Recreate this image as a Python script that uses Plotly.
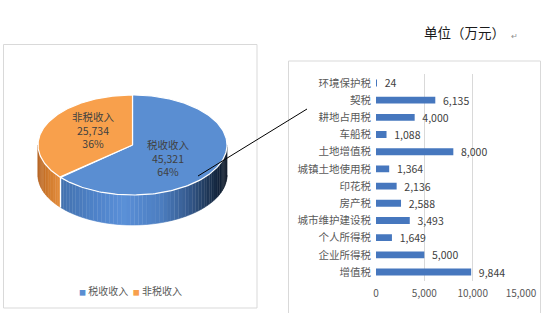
import numpy as np
import plotly.graph_objects as go

W, H = 542, 313

# ---------------- data ----------------
pie_labels = ["税收收入", "非税收入"]
pie_values = [45321, 25734]
pie_colors = ["#5A8ED2", "#F8A04C"]

tax_items = ["环境保护税", "契税", "耕地占用税", "车船税", "土地增值税", "城镇土地使用税",
             "印花税", "房产税", "城市维护建设税", "个人所得税", "企业所得税", "增值税"]
tax_values = [24, 6135, 4000, 1088, 8000, 1364, 2136, 2588, 3493, 1649, 5000, 9844]
x_ticks = [0, 5000, 10000, 15000]
x_ticklabels = ["0", "5,000", "10,000", "15,000"]
unit_text = "单位（万元）"

# ---------------- helpers ----------------
def px(x):
    return x / W

def py(y):
    return 1 - y / H

def hex2rgb(h):
    h = h.lstrip("#")
    return np.array([int(h[i:i + 2], 16) for i in (0, 2, 4)], dtype=float)

def interp_color(t, stops):
    ts = [s[0] for s in stops]
    cs = [hex2rgb(s[1]) for s in stops]
    if t <= ts[0]:
        c = cs[0]
    elif t >= ts[-1]:
        c = cs[-1]
    else:
        for i in range(len(ts) - 1):
            if ts[i] <= t <= ts[i + 1]:
                f = (t - ts[i]) / (ts[i + 1] - ts[i])
                c = cs[i] + f * (cs[i + 1] - cs[i])
                break
    return "rgb(%d,%d,%d)" % tuple(np.round(c))

# pie geometry (pixel space)
cx, cy, rx, ry, depth = 132.5, 145.0, 94.5, 50.0, 30.0
side_stops = [
    [(0.0, "#3D69A6"), (0.12, "#4371AE"), (0.3, "#4E82C8"), (0.45, "#5A90D8"),
     (0.65, "#4C7DC0"), (0.8, "#34598C"), (0.9, "#1E3656"), (1.0, "#0A1524")],
    [(0.0, "#B5611E"), (0.05, "#CF792C"), (0.12, "#E48D3C"), (1.0, "#E48D3C")],
]

fig = go.Figure()

total = sum(pie_values)
angles = []
a = -90.0
for v in pie_values:
    span = v / total * 360.0
    angles.append((a, a + span))
    a += span

def ex(phi):
    return cx + rx * np.cos(np.radians(phi))

def ey(phi):
    return cy + ry * np.sin(np.radians(phi))

# side walls (front half only) with gradient strips
for k, (a0, a1) in enumerate(angles):
    for off in (0.0, 360.0):
        lo = max(a0, 0.0 + off)
        hi = min(a1, 180.0 + off)
        if hi <= lo:
            continue
        n = max(2, int((hi - lo) / 2.5))
        edges = np.linspace(lo, hi, n + 1)
        for i in range(n):
            p0, p1 = edges[i], edges[i + 1]
            ph = np.linspace(p0, p1, 4)
            xs = list(ex(ph)) + list(ex(ph[::-1]))
            ys = list(ey(ph)) + list(ey(ph[::-1]) + depth)
            t = (ex((p0 + p1) / 2) - (cx - rx)) / (2 * rx)
            col = interp_color(t, side_stops[k])
            fig.add_trace(go.Scatter(x=xs, y=ys, fill="toself", fillcolor=col,
                                     mode="lines", line=dict(color=col, width=0.6),
                                     hoverinfo="skip", showlegend=False,
                                     xaxis="x", yaxis="y"))

# white separating edges on side where slices meet in front
for (a0, a1) in angles:
    for b in (a0, a1):
        bb = b % 360
        if 0 < bb < 180:
            fig.add_trace(go.Scatter(x=[ex(bb), ex(bb)], y=[ey(bb), ey(bb) + depth],
                                     mode="lines", line=dict(color="white", width=1.2),
                                     hoverinfo="skip", showlegend=False,
                                     xaxis="x", yaxis="y"))

# top faces
for k, (a0, a1) in enumerate(angles):
    ph = np.linspace(a0, a1, 200)
    xs = [cx] + list(ex(ph)) + [cx]
    ys = [cy] + list(ey(ph)) + [cy]
    fig.add_trace(go.Scatter(x=xs, y=ys, fill="toself", fillcolor=pie_colors[k],
                             mode="lines", line=dict(color="white", width=1.2),
                             hoverinfo="skip", showlegend=False, name=pie_labels[k],
                             xaxis="x", yaxis="y"))

# ---------------- bar chart ----------------
fig.add_trace(go.Bar(
    y=tax_items, x=tax_values, orientation="h", width=0.4,
    marker=dict(color="#4677BE", line=dict(width=0)),
    text=["\u00a0\u00a0" + f"{v:,}" for v in tax_values], textposition="outside",
    constraintext="none",
    textfont=dict(size=10.5, color="#404040"), cliponaxis=False,
    hoverinfo="skip", showlegend=False, xaxis="x2", yaxis="y2"))

font_family = "Noto Sans CJK SC, Noto Sans, sans-serif"

layout = dict(
    width=W, height=H, margin=dict(l=0, r=0, t=0, b=0),
    paper_bgcolor="white", plot_bgcolor="rgba(0,0,0,0)",
    font=dict(family=font_family, color="#595959"),
    showlegend=False,
    xaxis=dict(domain=[0, 1], range=[0, W], visible=False, fixedrange=True),
    yaxis=dict(domain=[0, 1], range=[H, 0], visible=False, fixedrange=True),
    xaxis2=dict(domain=[px(376), px(521)], range=[0, 15000], anchor="y2",
                tickvals=x_ticks, ticktext=x_ticklabels, showgrid=True,
                gridcolor="#D9D9D9", gridwidth=1, zeroline=False, showline=False,
                ticks="", tickfont=dict(size=10, color="#595959"), fixedrange=True,
                automargin=False, ticklabelstandoff=5),
    yaxis2=dict(domain=[py(280.6), py(74.4)], anchor="x2", type="category",
                range=[len(tax_items) - 0.5, -0.5], showgrid=False, zeroline=False,
                showline=False, ticks="", tickfont=dict(size=10.5, color="#595959"),
                fixedrange=True, automargin=False, ticklabelstandoff=4),
)
fig.update_layout(**layout)

shapes = [
    dict(type="rect", xref="paper", yref="paper", x0=px(3.5), x1=px(257), y0=py(308), y1=py(44.5),
         line=dict(color="#D9D9D9", width=1), fillcolor="rgba(0,0,0,0)", layer="below"),
    dict(type="rect", xref="paper", yref="paper", x0=px(288.5), x1=px(540.5), y0=-0.05, y1=py(61),
         line=dict(color="#D9D9D9", width=1), fillcolor="rgba(0,0,0,0)", layer="below"),
    dict(type="line", xref="paper", yref="paper", x0=px(198), y0=py(176), x1=px(307), y1=py(109),
         line=dict(color="#000000", width=1)),
]
fig.update_layout(shapes=shapes)

anns = []
anns.append(dict(xref="paper", yref="paper", x=px(422), y=py(32), xanchor="left", yanchor="middle",
                 text=unit_text, showarrow=False, font=dict(size=13.5, color="#1A1A1A")))
anns.append(dict(xref="paper", yref="paper", x=px(509), y=py(35), xanchor="left", yanchor="middle",
                 text="↵", showarrow=False, font=dict(size=8, color="#909090")))

pcts = [round(v / total * 100) for v in pie_values]
label_pos = [(168, 158), (93, 130)]
for k in range(len(pie_values)):
    anns.append(dict(xref="paper", yref="paper", x=px(label_pos[k][0]), y=py(label_pos[k][1]),
                     xanchor="center", yanchor="middle", showarrow=False,
                     text=f"{pie_labels[k]}<br>{pie_values[k]:,}<br>{pcts[k]}%",
                     font=dict(size=10.5, color="#404040")))

legend_text = (f'<span style="color:{pie_colors[0]};font-size:7px">■</span> {pie_labels[0]}  '
               f'<span style="color:{pie_colors[1]};font-size:7px">■</span> {pie_labels[1]}')
anns.append(dict(xref="paper", yref="paper", x=px(130), y=py(290), xanchor="center", yanchor="middle",
                 showarrow=False, text=legend_text, font=dict(size=10, color="#595959")))
fig.update_layout(annotations=anns)

fig.write_html("out.html")
